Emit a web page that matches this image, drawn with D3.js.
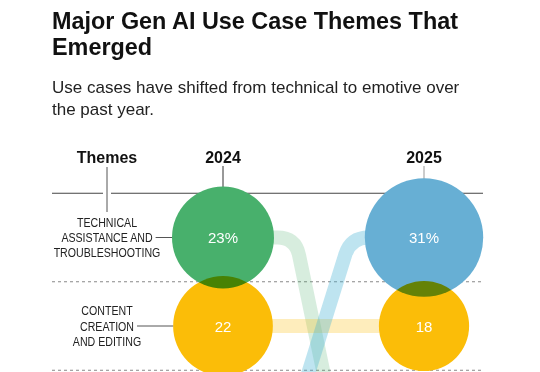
<!DOCTYPE html>
<html>
<head>
<meta charset="utf-8">
<script src="https://cdn.jsdelivr.net/npm/d3@7"></script>
<style>
  body { margin: 0; background: #fff; }
  svg { display: block; font-family: "Liberation Sans", Arial, sans-serif; }
</style>
</head>
<body>
<div id="container"></div>
<script>
const titleLines = ["Major Gen AI Use Case Themes That", "Emerged"];
const subtitleLines = ["Use cases have shifted from technical to emotive over", "the past year."];
const years = ["2024", "2025"];
const themeLabels = [
  ["TECHNICAL", "ASSISTANCE AND", "TROUBLESHOOTING"],
  ["CONTENT", "CREATION", "AND EDITING"]
];
const values2024 = [23, 22];
const values2025 = [31, 18];
const valueLabels2024 = ["23%", "22"];
const valueLabels2025 = ["31%", "18"];
const bubbleThemes2024 = ["technical", "content"];
const bubbleThemes2025 = ["support", "content"];
// rank in 2024 -> rank in 2025 for the ribbons crossing the visible rows
const flowThemes = ["technical", "content", "support"];
const flowFrom = [0, 1, 2];
const flowTo = [3, 1, 0];

const width = 540;
const height = 372;

const svg = d3.select("#container")
  .append("svg")
  .attr("width", width)
  .attr("height", height);

svg.append("defs").append("clipPath")
  .attr("id", "clip")
  .append("rect")
  .attr("x", 0).attr("y", 0)
  .attr("width", width).attr("height", height);

const color = d3.scaleOrdinal()
  .domain(["technical", "content", "support"])
  .range(["#48b06c", "#fbbd08", "#67afd4"]);
const ribbonColor = d3.scaleOrdinal()
  .domain(["technical", "content", "support"])
  .range(["#48ae6b", "#fbbd08", "#45b2d4"]);
const ribbonOpacity = d3.scaleOrdinal()
  .domain(["technical", "content", "support"])
  .range([0.22, 0.27, 0.35]);

const x = d3.scaleOrdinal().domain(["Themes", ...years]).range([107, 223, 424]);
const y = d3.scaleLinear().domain([0, 1]).range([237.5, 326]);
const r = d3.scaleSqrt().domain([0, 23]).range([0, 51]);
const left = 52, right = 483;
const narrow = 0.83; // condensed look for the theme labels

// Title + subtitle
svg.append("g").selectAll("text")
  .data(titleLines)
  .join("text")
  .attr("x", left)
  .attr("y", (d, i) => 29 + i * 26)
  .style("font-size", "23.4px")
  .style("font-weight", "bold")
  .style("fill", "#111")
  .text(d => d);

svg.append("g").selectAll("text")
  .data(subtitleLines)
  .join("text")
  .attr("x", left)
  .attr("y", (d, i) => 93 + i * 21.5)
  .style("font-size", "17px")
  .style("fill", "#222")
  .text(d => d);

// Column headers
svg.append("g").selectAll("text")
  .data(["Themes", ...years])
  .join("text")
  .attr("x", d => x(d))
  .attr("y", 163)
  .attr("text-anchor", "middle")
  .style("font-size", "16px")
  .style("font-weight", "bold")
  .style("fill", "#111")
  .text(d => d);

// Rules
svg.append("line")
  .attr("x1", left).attr("x2", right)
  .attr("y1", y(-0.5)).attr("y2", y(-0.5))
  .attr("stroke", "#444")
  .attr("stroke-width", 1.2);

svg.append("g").selectAll("line")
  .data(d3.range(themeLabels.length))
  .join("line")
  .attr("x1", left).attr("x2", right)
  .attr("y1", d => y(d + 0.5)).attr("y2", d => y(d + 0.5))
  .attr("stroke", "#888")
  .attr("stroke-dasharray", "3,3");

// Header ticks
svg.append("line")
  .attr("x1", x("Themes")).attr("x2", x("Themes"))
  .attr("y1", y(-0.5) - 4).attr("y2", y(-0.5) + 4)
  .attr("stroke", "#fff")
  .attr("stroke-width", 8);
svg.append("line")
  .attr("x1", x("Themes")).attr("x2", x("Themes"))
  .attr("y1", 167).attr("y2", 212)
  .attr("stroke", "#555");
svg.append("line")
  .attr("x1", x("2024")).attr("x2", x("2024"))
  .attr("y1", 166).attr("y2", y(0))
  .attr("stroke", "#333");
svg.append("line")
  .attr("x1", x("2025")).attr("x2", x("2025"))
  .attr("y1", 166).attr("y2", y(0))
  .attr("stroke", "#bbb")
  .attr("stroke-width", 1.5);

// Ribbons
function ribbon(a, b) {
  const x0 = x("2024"), x1 = x("2025");
  const xa = x0 + 0.36 * (x1 - x0), xb = x0 + 0.635 * (x1 - x0);
  const y0 = y(a), y1 = y(b);
  const p = d3.path();
  p.moveTo(x0, y0);
  if (a === b) {
    p.lineTo(x1, y1);
    return p.toString();
  }
  const len = Math.hypot(xb - xa, y1 - y0);
  const ux = (xb - xa) / len, uy = (y1 - y0) / len, rc = 18;
  p.lineTo(xa - rc, y0);
  p.quadraticCurveTo(xa, y0, xa + rc * ux, y0 + rc * uy);
  p.lineTo(xb - rc * ux, y1 - rc * uy);
  p.quadraticCurveTo(xb, y1, xb + rc, y1);
  p.lineTo(x1, y1);
  return p.toString();
}

svg.append("g")
  .attr("clip-path", "url(#clip)")
  .selectAll("path")
  .data(flowThemes)
  .join("path")
  .attr("d", (d, i) => ribbon(flowFrom[i], flowTo[i]))
  .attr("fill", "none")
  .attr("stroke", d => ribbonColor(d))
  .attr("stroke-opacity", d => ribbonOpacity(d))
  .attr("stroke-width", 14);

// Bubbles
const bubbles = [
  ...values2024.map((v, i) => ({ year: "2024", row: i, value: v, label: valueLabels2024[i], theme: bubbleThemes2024[i] })),
  ...values2025.map((v, i) => ({ year: "2025", row: i, value: v, label: valueLabels2025[i], theme: bubbleThemes2025[i] }))
];

svg.append("g")
  .style("isolation", "isolate")
  .selectAll("circle")
  .data(bubbles)
  .join("circle")
  .attr("cx", d => x(d.year))
  .attr("cy", d => y(d.row))
  .attr("r", d => r(d.value))
  .attr("fill", d => color(d.theme))
  .style("mix-blend-mode", "multiply");

svg.append("g").selectAll("text")
  .data(bubbles)
  .join("text")
  .attr("x", d => x(d.year))
  .attr("y", d => y(d.row) + 5.5)
  .attr("text-anchor", "middle")
  .style("font-size", "15px")
  .style("fill", "#fff")
  .text(d => d.label);

// Theme labels + connectors
themeLabels.forEach((lines, i) => {
  const g = svg.append("g")
    .attr("transform", `translate(${x("Themes")},0) scale(${narrow},1)`);
  const texts = g.selectAll("text")
    .data(lines)
    .join("text")
    .attr("x", 0)
    .attr("y", (d, j) => y(i) + 4.6 + (j - 1) * 15.3)
    .attr("text-anchor", "middle")
    .style("font-size", "12.8px")
    .style("fill", "#222")
    .text(d => d);
  const mid = texts.nodes()[1];
  const end = x("Themes") + mid.getComputedTextLength() * narrow / 2 + 3;
  svg.append("line")
    .attr("x1", end)
    .attr("x2", x("2024") - r(values2024[i]))
    .attr("y1", y(i)).attr("y2", y(i))
    .attr("stroke", "#555");
});
</script>
</body>
</html>
